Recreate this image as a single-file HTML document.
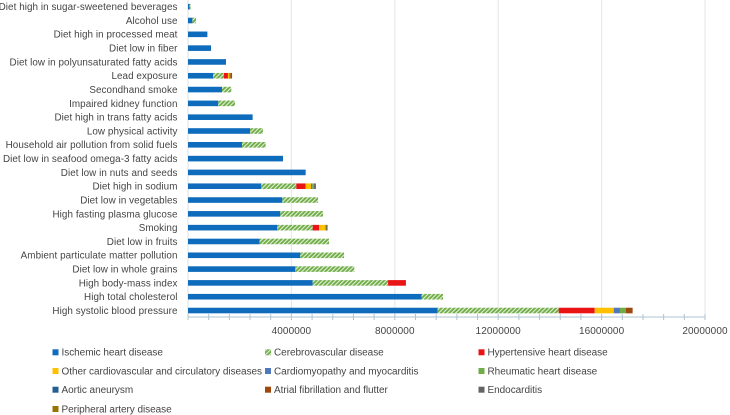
<!DOCTYPE html>
<html lang="en">
<head>
<meta charset="utf-8">
<title>Cardiovascular deaths by risk factor</title>
<style>
html,body{margin:0;padding:0;background:#fff;}
body{width:730px;height:415px;overflow:hidden;}
svg{display:block;font-family:"Liberation Sans",sans-serif;filter:blur(0.3px);}
text{fill:#444444;font-size:9.85px;}
</style>
</head>
<body>
<svg id="chart" width="730" height="415" viewBox="0 0 730 415" xmlns="http://www.w3.org/2000/svg">
<defs>
<pattern id="hatch" patternUnits="userSpaceOnUse" width="3" height="3" patternTransform="rotate(-45)">
<rect width="3" height="3" fill="#70ad47"/>
<rect width="3" height="1.1" fill="#ffffff" opacity="0.8"/>
</pattern>
</defs>
</svg>
<script>
const categories = ["Diet high in sugar-sweetened beverages","Alcohol use","Diet high in processed meat","Diet low in fiber","Diet low in polyunsaturated fatty acids","Lead exposure","Secondhand smoke","Impaired kidney function","Diet high in trans fatty acids","Low physical activity","Household air pollution from solid fuels","Diet low in seafood omega-3 fatty acids","Diet low in nuts and seeds","Diet high in sodium","Diet low in vegetables","High fasting plasma glucose","Smoking","Diet low in fruits","Ambient particulate matter pollution","Diet low in whole grains","High body-mass index","High total cholesterol","High systolic blood pressure"];
const ischemic = [60000,170000,750000,890000,1470000,970000,1315000,1172000,2500000,2400000,2090000,3675000,4552000,2836000,3650000,3572000,3455000,2772000,4345000,4152000,4823000,9033000,9660000];
const cerebrovascular = [40000,140000,0,0,0,420000,360000,646000,0,500000,915000,0,0,1354000,1380000,1650000,1368000,2683000,1690000,2281000,2917000,832000,4680000];
const hypertensive = [0,0,0,0,0,155000,0,0,0,0,0,0,0,362000,0,0,245000,0,0,0,690000,0,1394000];
const otherCardio = [0,0,0,0,0,40000,0,0,0,0,0,0,0,206000,0,0,257000,0,0,0,0,0,736000];
const cardiomyopathy = [0,0,0,0,0,0,0,0,0,0,0,0,0,50000,0,0,0,0,0,0,0,0,240000];
const rheumatic = [0,0,0,0,0,50000,0,0,0,0,0,0,0,70000,0,0,0,0,0,0,0,0,235000];
const aortic = [0,0,0,0,0,0,0,0,0,0,0,0,0,0,0,0,30000,0,0,0,0,0,0];
const atrial = [0,0,0,0,0,70000,0,0,0,0,0,0,0,0,0,0,0,0,0,0,0,0,255000];
const endocarditis = [0,0,0,0,0,0,0,0,0,0,0,0,0,70000,0,0,0,0,0,0,0,0,0];
const peripheral = [0,0,0,0,0,0,0,0,0,0,0,0,0,0,0,0,45000,0,0,0,0,0,0];
const seriesNames = ["Ischemic heart disease","Cerebrovascular disease","Hypertensive heart disease","Other cardiovascular and circulatory diseases","Cardiomyopathy and myocarditis","Rheumatic heart disease","Aortic aneurysm","Atrial fibrillation and flutter","Endocarditis","Peripheral artery disease"];
const seriesValues = [ischemic,cerebrovascular,hypertensive,otherCardio,cardiomyopathy,rheumatic,aortic,atrial,endocarditis,peripheral];
const seriesColors = ["#0f6cbd","url(#hatch)","#e81416","#ffc000","#4f78bd","#70ad47","#255e91","#9e480e","#636363","#997300"];
const xTicks = [4000000,8000000,12000000,16000000,20000000];
const minorStep = 800000;
const xMax = 20000000;

const NS = "http://www.w3.org/2000/svg";
const svg = document.getElementById("chart");
const X0 = 188, X1 = 705, AXIS_Y = 317, ROW0 = 6.7, ROW_STEP = 13.81, BAR_H = 5.6;
function x(v){ return X0 + v / xMax * (X1 - X0); }
function y(i){ return ROW0 + i * ROW_STEP; }
function make(tag, attrs, parent){
  const el = document.createElementNS(NS, tag);
  for (const k in attrs) el.setAttribute(k, attrs[k]);
  (parent || svg).appendChild(el);
  return el;
}

const gridGroup = make("g", {});


xTicks.forEach(function(t){
  const g = make("line", {x1:x(t), x2:x(t), y1:0, y2:AXIS_Y, stroke:"#e3e7ea", "stroke-width":1}, gridGroup);
  
  
});

const yAxis = make("line", {x1:X0, x2:X0, y1:0, y2:AXIS_Y, stroke:"#dbe3e8", "stroke-width":1});



const barsGroup = make("g", {});


categories.forEach(function(c, i){
  let total = 0;
  seriesValues.forEach(function(vals, s){
    const v = vals[i];
    if (!v) return;
    const r = make("rect", {x:x(total), y:y(i)-BAR_H/2, width:x(total+v)-x(total), height:BAR_H, fill:seriesColors[s]}, barsGroup);
    
    
    total += v;
  });
  const label = make("text", {x:177.5, y:y(i)+3.4, "text-anchor":"end", "letter-spacing":"0.07"});
  label.textContent = c;
  
  
});

const xAxis = make("line", {x1:X0, x2:X1, y1:AXIS_Y, y2:AXIS_Y, stroke:"#afc4d0", "stroke-width":1});


for (let m = 0; m <= xMax; m += minorStep) {
  const t = make("line", {x1:x(m), x2:x(m), y1:AXIS_Y-3, y2:AXIS_Y+3, stroke:"#afc4d0", "stroke-width":1});
  
  
}
xTicks.forEach(function(t){
  const l = make("text", {x:x(t), y:334, "text-anchor":"middle", "letter-spacing":"0.1", style:"font-size:10px"});
  l.textContent = String(t);
  
  
});

const legendGroup = make("g", {});


const LEG_X = [52.5, 265, 478.5], LEG_Y = [352.3, 371, 389.7, 409];
seriesNames.forEach(function(n, s){
  const col = s % 3, row = Math.floor(s / 3);
  const entry = make("g", {}, legendGroup);
  
  
  const sw = make("rect", {x:LEG_X[col], y:LEG_Y[row]-3, width:6, height:6, fill:seriesColors[s]}, entry);
  
  
  const t = make("text", {x:LEG_X[col]+9, y:LEG_Y[row]+3.4, "letter-spacing":"-0.04", style:"font-size:10px"}, entry);
  t.textContent = n;
  
  
});
</script>
</body>
</html>
